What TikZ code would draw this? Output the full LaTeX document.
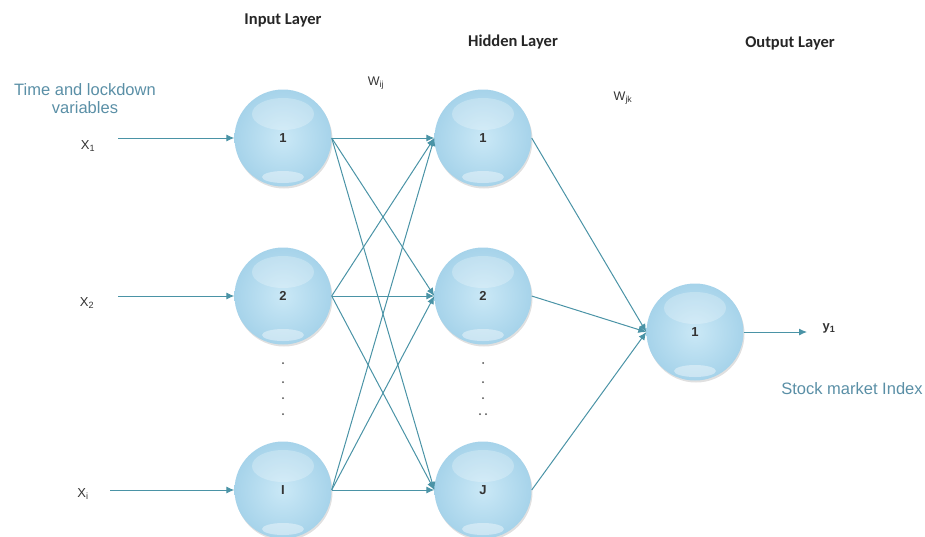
\documentclass[tikz,border=0pt]{standalone}
\usepackage{fontspec}
\setmainfont{Liberation Sans}
\newfontfamily\titlefont{Carlito}
\usetikzlibrary{arrows.meta,shadows}
\definecolor{edgec}{HTML}{4A93A6}
\definecolor{ballin}{HTML}{CAE8F6}
\definecolor{ballout}{HTML}{A6D3EA}
\definecolor{labc}{HTML}{5A8FA6}
\definecolor{txtc}{HTML}{333333}
\tikzset{
  neuron/.style={circle, minimum size=97pt, inner sep=0pt,
    inner color=ballin, outer color=ballout,
    drop shadow={shadow xshift=1pt, shadow yshift=-2pt, fill=black!35, opacity=0.35},
    font=\fontsize{13}{15}\selectfont\bfseries, text=txtc,
    path picture={
      \fill[white, opacity=0.25] ([yshift=24pt]path picture bounding box.center) ellipse (31pt and 16pt);
      \fill[white, opacity=0.4] ([yshift=-39pt]path picture bounding box.center) ellipse (21pt and 6pt);
    }},
  conn/.style={draw=edgec, line width=1pt, -{Latex[length=8pt,width=7pt]}},
  title/.style={font=\titlefont\fontsize{16.5}{18}\selectfont\bfseries, text=black!85},
  varlab/.style={font=\fontsize{13}{15}\selectfont, text=txtc},
  wlab/.style={font=\fontsize{12.5}{14}\selectfont, text=txtc},
  desc/.style={font=\fontsize{16.5}{18}\selectfont, text=labc, align=center},
  vdot/.style={circle, fill=black!70, inner sep=0pt, minimum size=2pt}
}
\begin{document}
\begin{tikzpicture}[x=1pt, y=-1pt]
\useasboundingbox (0,0) rectangle (925,536);

% titles
\node[title] (tin) at (283,20) {Input Layer};
\node[title] (thid) at (513,42) {Hidden Layer};
\node[title] (tout) at (790,43) {Output Layer};

% weights
\node[wlab] (wij) at (376,83) {W\textsubscript{ij}};
\node[wlab] (wjk) at (623,98) {W\textsubscript{jk}};

% description
\node[desc] (tv) at (85,99) {Time and lockdown\\[0pt]variables};
\node[desc] (smi) at (852,389) {Stock market Index};

% neurons
\node[neuron] (i1) at (283,138) {1};
\node[neuron] (i2) at (283,296) {2};
\node[neuron] (i3) at (283,490) {I};
\node[neuron] (h1) at (483,138) {1};
\node[neuron] (h2) at (483,296) {2};
\node[neuron] (h3) at (483,490) {J};
\node[neuron] (o1) at (695,332) {1};

% input labels and start points
\node[varlab] (x1) at (88,146) {X\textsubscript{1}};
\node[varlab] (x2) at (87,303) {X\textsubscript{2}};
\node[varlab] (x3) at (83,494) {X\textsubscript{i}};
\coordinate (s1) at (118,138);
\coordinate (s2) at (118,296);
\coordinate (s3) at (110,490);
\draw[conn] (s1) -- (i1.west);
\draw[conn] (s2) -- (i2.west);
\draw[conn] (s3) -- (i3.west);

% input -> hidden
\foreach \a in {i1,i2,i3}{
  \foreach \b in {h1,h2,h3}{
    \draw[conn] (\a.east) -- (\b.west);
  }
}
% hidden -> output
\foreach \b in {h1,h2,h3}{
  \draw[conn] (\b.east) -- (o1.west);
}

% output
\coordinate (e1) at (807,332);
\draw[conn] (o1.east) -- (e1);
\node[font=\fontsize{13}{15}\selectfont\bfseries, text=txtc] (y1) at (829,328) {y\textsubscript{1}};

% vertical dots
\foreach \yy in {363,382,398,414}{
  \node[vdot] at (283,\yy) {};
}
\foreach \yy in {363,382,398}{
  \node[vdot] at (483,\yy) {};
}
\node[vdot] at (480,414) {};
\node[vdot] at (486,414) {};
\end{tikzpicture}
\end{document}
